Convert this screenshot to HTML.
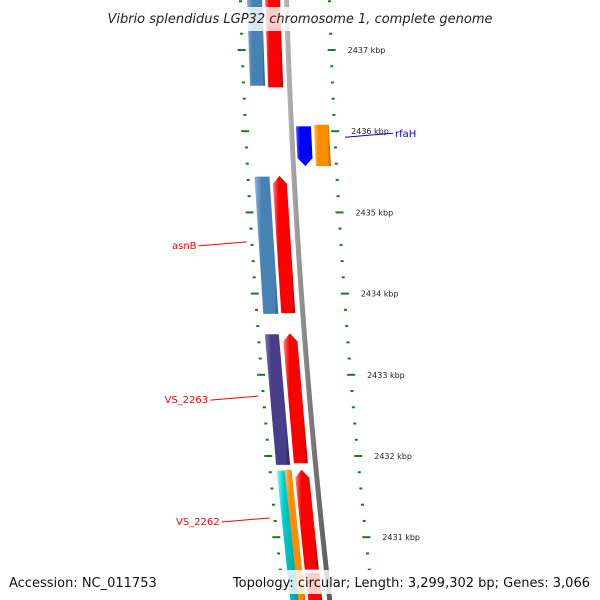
<!DOCTYPE html>
<html><head><meta charset="utf-8"><style>
html,body{margin:0;padding:0;background:#fff;}
svg{display:block;font-family:"DejaVu Sans","Liberation Sans",sans-serif;}
</style></head><body>
<svg id="map" width="600" height="600" viewBox="0 0 600 600" xmlns="http://www.w3.org/2000/svg">
<defs>
<linearGradient id="gsteel" x1="0" x2="1"><stop offset="0" stop-color="#8db4d8"/><stop offset="0.3" stop-color="#4682b4"/><stop offset="0.85" stop-color="#4682b4"/><stop offset="1" stop-color="#2d5a80"/></linearGradient>
<linearGradient id="gred" x1="0" x2="1"><stop offset="0" stop-color="#ff8080"/><stop offset="0.25" stop-color="#ff0000"/><stop offset="0.8" stop-color="#ff0000"/><stop offset="1" stop-color="#b00000"/></linearGradient>
<linearGradient id="gblue" x1="0" x2="1"><stop offset="0" stop-color="#6060ff"/><stop offset="0.25" stop-color="#0000ff"/><stop offset="0.8" stop-color="#0000ff"/><stop offset="1" stop-color="#0000a0"/></linearGradient>
<linearGradient id="gorange" x1="0" x2="1"><stop offset="0" stop-color="#ffc070"/><stop offset="0.25" stop-color="#ff8c00"/><stop offset="0.8" stop-color="#ff8c00"/><stop offset="1" stop-color="#b06000"/></linearGradient>
<linearGradient id="gpurple" x1="0" x2="1"><stop offset="0" stop-color="#8078c0"/><stop offset="0.25" stop-color="#483d8b"/><stop offset="0.8" stop-color="#483d8b"/><stop offset="1" stop-color="#2a2360"/></linearGradient>
<linearGradient id="gcyan" x1="0" x2="1"><stop offset="0" stop-color="#80ffff"/><stop offset="0.3" stop-color="#00cccc"/><stop offset="1" stop-color="#009999"/></linearGradient>
<linearGradient id="ggray" x1="0" x2="1"><stop offset="0" stop-color="#bbb"/><stop offset="0.5" stop-color="#808080"/><stop offset="1" stop-color="#555"/></linearGradient>
</defs>
<g id="ticks"></g>
<g id="backbone"></g>
<g id="features"></g>
<g id="labels"></g>
<rect x="0" y="7" width="600" height="24" fill="#fff" opacity="0.8"/>
<text x="300" y="23" text-anchor="middle" font-size="13" font-style="italic" fill="#222">Vibrio splendidus LGP32 chromosome 1, complete genome</text>
<rect x="0" y="570" width="600" height="24" fill="#fff" opacity="0.8"/>
<text x="9" y="587" font-size="13" fill="#111">Accession: NC_011753</text>
<text x="590" y="587" text-anchor="end" font-size="13" fill="#111">Topology: circular; Length: 3,299,302 bp; Genes: 3,066</text>
</svg>
<script>
const majorTicks=[2437,2436,2435,2434,2433,2432,2431];
const minorStart=2430.2, minorEnd=2437.8;
const featStart=[2437.74,2437.74,2436.06,2436.08,2435.44,2435.45,2433.50,2433.51,2431.82,2431.83,2431.83,2430.56];
const featEnd=[2436.56,2436.54,2435.57,2435.57,2433.75,2433.76,2431.89,2431.91,2430.10,2430.10,2430.60,2430.10];
const featLane=[247,265,291,309,247,265,247,265,247,255,265,265];
const featWidth=[15,15,15,15,15,14,14,14,9,7,14,14];
const featColor=["gsteel","gred","gblue","gorange","gsteel","gred","gpurple","gred","gcyan","gorange","gred","gred"];
const featDir=[0,0,-1,0,0,1,0,1,0,0,1,0];
const labelText=["rfaH","asnB","VS_2263","VS_2262"];
const labelKbp=[2436.0,2434.6,2432.7,2431.2];
const NS="http://www.w3.org/2000/svg";
function yOf(k){return 50+(2437-k)*81.2;}
function cx(y){return 0.03*y+0.00007*y*y;}
function mk(tag,attrs,parent){const e=document.createElementNS(NS,tag);for(const k in attrs)e.setAttribute(k,attrs[k]);parent.appendChild(e);return e;}
const tg=document.getElementById('ticks');
for(let i=0;;i++){const k=minorStart+i*0.2;if(k>minorEnd+1e-6)break;
 const y=yOf(k);const major=Math.abs(k-Math.round(k))<1e-6;const w=major?8:3;
 const a=mk('rect',{x:239+cx(y)-(major?3:0),y:y-1,width:w,height:2,fill:'#1a7a1a'},tg);
 
 const b=mk('rect',{x:328+cx(y)-(major?2:0),y:y-1,width:w,height:2,fill:'#1a7a1a'},tg);
 }
majorTicks.forEach(k=>{const y=yOf(k);
 const t=mk('text',{x:346+cx(y),y:y+3,'font-size':8,fill:'#222'},tg);t.textContent=k+' kbp';
 });
const bb=document.getElementById('backbone');
let pts=[];for(let y=-5;y<=605;y+=10)pts.push((284+cx(y))+','+y);
for(let y=605;y>=-5;y-=10)pts.push((289+cx(y))+','+y);
const bp=mk('polygon',{points:pts.join(' '),fill:'url(#ggray)'},bb);

const fg=document.getElementById('features');
featStart.forEach((s,i)=>{const y1=yOf(s),y2=yOf(featEnd[i]);const L=featLane[i],W=featWidth[i];
 const p=[];const ah=8;
 const top=featDir[i]===1?y1+ah:y1, bot=featDir[i]===-1?y2-ah:y2;
 if(featDir[i]===1)p.push((L+W/2+cx(y1))+','+y1);
 p.push((L+cx(top))+','+top,(L+cx(bot))+','+bot);
 if(featDir[i]===-1)p.push((L+W/2+cx(y2))+','+y2);
 p.push((L+W+cx(bot))+','+bot,(L+W+cx(top))+','+top);
 const g=mk('polygon',{points:p.join(' '),fill:'url(#'+featColor[i]+')'},fg);
 });
const lg=document.getElementById('labels');
labelText.forEach((t,i)=>{const y=yOf(labelKbp[i]);
 if(i===0){const l=mk('line',{x1:345,y1:y+6,x2:393,y2:y+2,stroke:'#0000ff','stroke-width':1},lg);
  
  const tx=mk('text',{x:395,y:y+6,'font-size':10,fill:'#0000ff'},lg);tx.textContent=t;
  }
 else{const xe=242+cx(y)-cx(yOf(2434.6))+ (i===1?0:0);const x2=238+cx(y)-3;
  const tx=mk('text',{x:x2-50,y:y+4,'font-size':10,fill:'#ff0000','text-anchor':'end'},lg);tx.textContent=t;
  
  const l=mk('line',{x1:x2-48,y1:y+1,x2:x2,y2:y-3,stroke:'#ff0000','stroke-width':1},lg);
  }});
</script>
</body></html>
